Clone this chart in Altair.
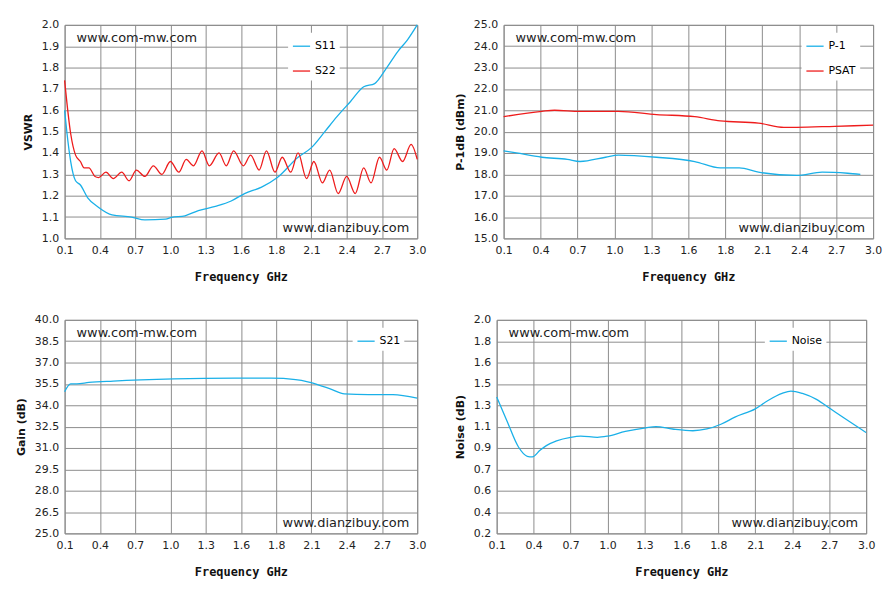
import altair as alt
import pandas as pd

BLUE = "#1ab0e8"
RED = "#ee1c1c"

# --- VSWR ---
s11_f = [0.10, 0.12, 0.15, 0.19, 0.23, 0.29, 0.38, 0.49, 0.65, 0.76, 0.93, 0.98, 1.09, 1.20,
         1.34, 1.47, 1.58, 1.72, 1.85, 2.02, 2.13, 2.24, 2.34, 2.45, 2.56, 2.65, 2.75, 2.84, 2.92, 3.00]
s11_v = [1.60, 1.49, 1.36, 1.27, 1.25, 1.19, 1.145, 1.11, 1.10, 1.087, 1.09, 1.098, 1.106, 1.13,
         1.15, 1.175, 1.21, 1.24, 1.285, 1.38, 1.425, 1.50, 1.57, 1.64, 1.71, 1.725, 1.80, 1.875, 1.93, 2.00]
s22_f = [0.10, 0.15, 0.19, 0.23, 0.26, 0.30, 0.35, 0.38, 0.44, 0.50, 0.57, 0.63, 0.69, 0.76, 0.83,
         0.90, 0.97, 1.04, 1.10, 1.16, 1.23, 1.29, 1.37, 1.43, 1.49, 1.57, 1.63, 1.70, 1.76, 1.83,
         1.89, 1.96, 2.02, 2.09, 2.15, 2.22, 2.28, 2.35, 2.42, 2.49, 2.56, 2.62, 2.69, 2.75, 2.81,
         2.88, 2.95, 3.00]
s22_v = [1.74, 1.49, 1.39, 1.36, 1.33, 1.33, 1.29, 1.285, 1.31, 1.28, 1.31, 1.27, 1.32, 1.29, 1.34,
         1.30, 1.36, 1.31, 1.37, 1.34, 1.41, 1.34, 1.40, 1.34, 1.41, 1.34, 1.39, 1.32, 1.41, 1.31,
         1.38, 1.31, 1.40, 1.28, 1.36, 1.26, 1.32, 1.21, 1.29, 1.21, 1.33, 1.26, 1.38, 1.32, 1.42,
         1.36, 1.44, 1.37]

# --- P-1 / PSAT ---
psat_f = [0.1, 0.4, 0.5, 0.7, 1.0, 1.3, 1.6, 1.8, 2.1, 2.3, 2.4, 2.7, 3.0]
psat_v = [20.7, 20.95, 21.0, 20.95, 20.95, 20.8, 20.7, 20.5, 20.4, 20.2, 20.2, 20.25, 20.3]
p1_f = [0.1, 0.2, 0.4, 0.6, 0.7, 0.9, 1.0, 1.3, 1.6, 1.8, 1.95, 2.1, 2.4, 2.6, 2.8, 2.9]
p1_v = [19.1, 19.0, 18.8, 18.7, 18.6, 18.8, 18.9, 18.8, 18.6, 18.3, 18.3, 18.1, 17.95, 18.1, 18.05, 18.0]

# --- Gain ---
gain_f = [0.1, 0.15, 0.2, 0.3, 0.5, 1.0, 1.5, 1.8, 2.0, 2.1, 2.3, 2.4, 2.6, 2.8, 3.0]
gain_v = [34.95, 35.5, 35.5, 35.6, 35.7, 35.85, 35.9, 35.9, 35.8, 35.65, 35.1, 34.8, 34.75, 34.75, 34.5]

# --- Noise ---
noise_f = [0.10, 0.18, 0.27, 0.34, 0.38, 0.44, 0.49, 0.57, 0.68, 0.76, 0.89, 0.97, 1.11, 1.27, 1.35,
           1.48, 1.64, 1.75, 1.86, 1.97, 2.13, 2.23, 2.34, 2.41, 2.50, 2.61, 2.72, 2.83, 3.00]
noise_v = [1.35, 1.15, 0.93, 0.85, 0.845, 0.90, 0.94, 0.98, 1.01, 1.02, 1.01, 1.02, 1.06, 1.09, 1.10,
           1.08, 1.065, 1.08, 1.12, 1.18, 1.25, 1.32, 1.38, 1.40, 1.38, 1.33, 1.25, 1.17, 1.05]

x_ticks = [0.1 + 0.29 * i for i in range(11)]


def series(f, v, name):
    return pd.DataFrame({"f": f, "v": v, "s": name})


def panel(df, names, colors, ymin, ymax, ytitle, w, lx):
    yticks = [ymin + (ymax - ymin) / 10 * i for i in range(11)]
    base = alt.Chart(df)
    line = base.mark_line(strokeWidth=1.3, interpolate="monotone").encode(
        x=alt.X("f:Q", scale=alt.Scale(domain=[0.1, 3.0], nice=False, zero=False),
                axis=alt.Axis(values=x_ticks, format=".1f", title="Frequency GHz")),
        y=alt.Y("v:Q", scale=alt.Scale(domain=[ymin, ymax], nice=False, zero=False),
                axis=alt.Axis(values=yticks, format=".1f", title=ytitle)),
        color=alt.Color("s:N", scale=alt.Scale(domain=names, range=colors),
                        legend=alt.Legend(title=None, orient="none", legendX=lx, legendY=8,
                                          symbolType="stroke", symbolSize=300, symbolStrokeWidth=1.3,
                                          fillColor="white", padding=4, rowPadding=10,
                                          labelFont="DejaVu Sans", labelFontSize=11)),
    )
    t1 = alt.Chart(pd.DataFrame({"t": ["www.com-mw.com"]})).mark_text(
        align="left", baseline="middle", font="DejaVu Sans", fontSize=13, color="#222"
    ).encode(x=alt.value(12), y=alt.value(13), text="t:N")
    t2 = alt.Chart(pd.DataFrame({"t": ["www.dianzibuy.com"]})).mark_text(
        align="right", baseline="middle", font="DejaVu Sans", fontSize=13, color="#222"
    ).encode(x=alt.value(w - 8), y=alt.value(205), text="t:N")
    return alt.layer(line, t1, t2).properties(width=w, height=215)


vswr = panel(pd.concat([series(s11_f, s11_v, "S11"), series(s22_f, s22_v, "S22")]),
             ["S11", "S22"], [BLUE, RED], 1.0, 2.0, "VSWR", 355, 225)
pw = panel(pd.concat([series(p1_f, p1_v, "P-1"), series(psat_f, psat_v, "PSAT")]),
           ["P-1", "PSAT"], [BLUE, RED], 15.0, 25.0, "P-1dB (dBm)", 372, 300)
gain = panel(series(gain_f, gain_v, "S21"), ["S21"], [BLUE], 25.0, 40.0, "Gain (dB)", 355, 290)
noise = panel(series(noise_f, noise_v, "Noise"), ["Noise"], [BLUE], 0.2, 2.0, "Noise (dB)", 372, 270)

chart = alt.vconcat(
    alt.hconcat(vswr, pw, spacing=27).resolve_scale(color="independent"),
    alt.hconcat(gain, noise, spacing=27).resolve_scale(color="independent"),
    spacing=30,
).resolve_scale(color="independent").properties(
    padding={"left": 7, "top": 8, "right": 5, "bottom": 5}
).configure_view(
    stroke="#888", strokeWidth=1
).configure_axis(
    grid=True, gridColor="#8c8c8c", gridWidth=1, domain=False, ticks=False,
    labelFont="DejaVu Sans", labelFontSize=11, labelColor="#222", labelPadding=6,
    titleFontWeight="bold", titleColor="#111",
).configure_axisX(
    titleFont="DejaVu Sans Mono", titleFontSize=12, titlePadding=16, labelFlush=False
).configure_axisY(
    titleFont="DejaVu Sans", titleFontSize=11, titlePadding=8
)

chart.save("out.html", embed_options={"renderer": "svg", "actions": False})
